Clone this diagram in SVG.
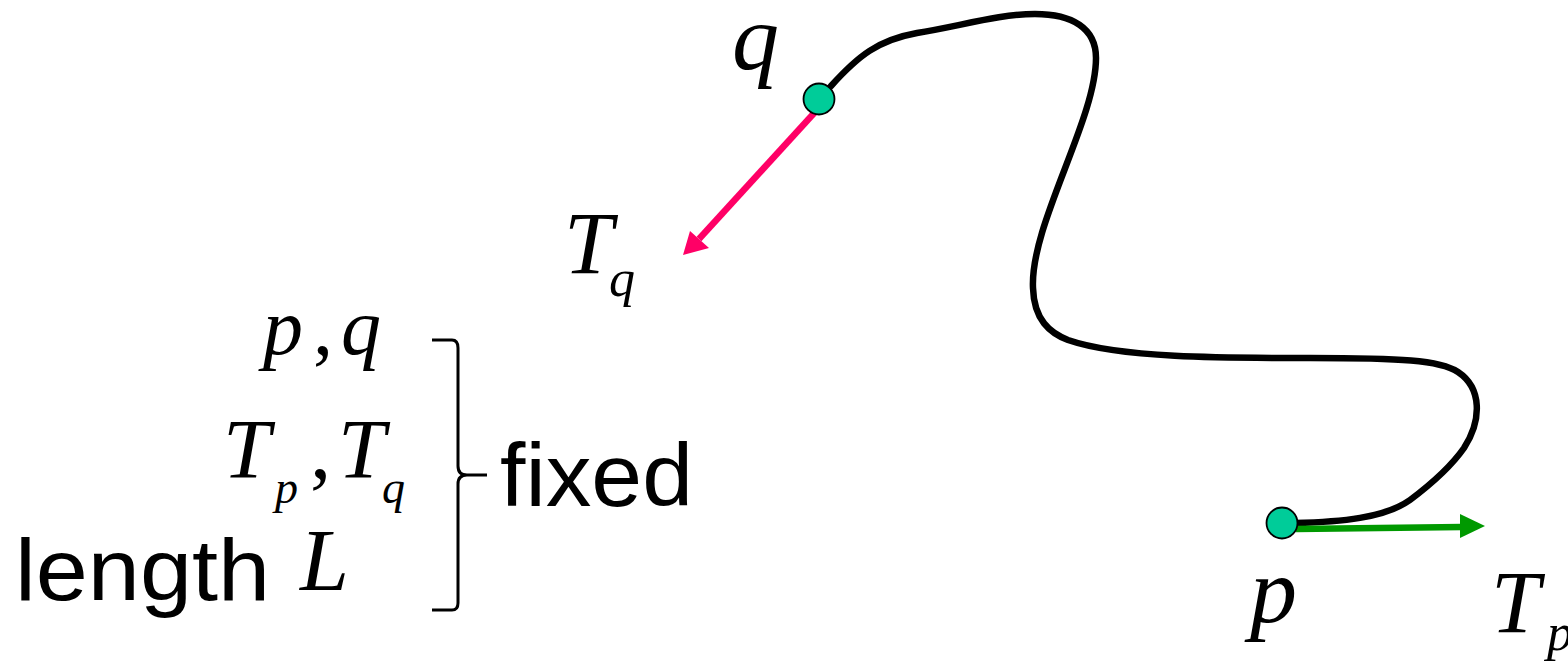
<svg xmlns="http://www.w3.org/2000/svg" width="1568" height="663" viewBox="0 0 1568 663">
<style>
.m{font-family:"Liberation Serif","Times New Roman",serif;font-style:italic;fill:#000}
.r{font-family:"Liberation Serif","Times New Roman",serif;fill:#000}
.s{font-family:"Liberation Sans",Arial,sans-serif;fill:#000}
.dot{fill:#00CC99;stroke:#000;stroke-width:1.8}
</style>
<rect width="1568" height="663" fill="#fff"/>
<g id="connectors">
<path id="curve" d="M831 86 C858 56 878 40 917 33 C960 26 1000 14 1035 14 C1072 14 1096 28 1096 58 C1096 120 1030 225 1033 288 C1034 320 1050 333 1068 340 C1120 358 1220 358 1310 358 C1400 358 1440 360 1458 372 C1482 388 1482 420 1464 448 C1450 468 1430 485 1410 500 C1385 518 1340 522 1295 523" fill="none" stroke="#000" stroke-width="6.5" stroke-linecap="round"/>
<g id="Tq-arrow">
<line x1="816" y1="111" x2="699" y2="239" stroke="#FF0066" stroke-width="6.5"/>
<polygon points="683,255 690,231 709,248" fill="#FF0066"/>
</g>
<g id="Tp-arrow">
<line x1="1296" y1="529" x2="1462" y2="527" stroke="#009900" stroke-width="6.5"/>
<polygon points="1460,514 1485,526 1460,538" fill="#009900"/>
</g>
<path id="brace" d="M432 340 L452 340 Q458 340 458 348 L458 466 Q458 475 467 475 L487 475 M467 475 Q458 475 458 484 L458 603 Q458 610 452 610 L432 610" fill="none" stroke="#000" stroke-width="3"/>
</g>
<g id="node-q">
<circle class="dot" cx="819" cy="99" r="15.5"/>
<text class="m" x="732" y="69" font-size="94">q</text>
</g>
<g id="node-p">
<circle class="dot" cx="1282" cy="523" r="15.5"/>
<text class="m" x="1250" y="622" font-size="94">p</text>
</g>
<g id="label-Tq">
<text class="m" x="564" y="273" font-size="88">T</text>
<text class="m" x="609" y="296" font-size="52">q</text>
</g>
<g id="label-Tp">
<text class="m" x="1491" y="632" font-size="88">T</text>
<text class="m" x="1547" y="650" font-size="52">p</text>
</g>
<g id="legend">
<text class="m" x="263" y="354" font-size="80">p</text>
<text class="r" x="313" y="354" font-size="80">,</text>
<text class="m" x="341" y="354" font-size="80">q</text>
<text class="m" x="223" y="478" font-size="85">T</text>
<text class="m" x="275" y="503" font-size="46">p</text>
<text class="r" x="310" y="478" font-size="85">,</text>
<text class="m" x="338" y="478" font-size="85">T</text>
<text class="m" x="382" y="503" font-size="46">q</text>
<text class="s" x="15" y="600" font-size="88" textLength="255" lengthAdjust="spacingAndGlyphs">length</text>
<text class="m" x="300" y="590" font-size="88">L</text>
<text class="s" x="500" y="506" font-size="89" textLength="193" lengthAdjust="spacingAndGlyphs">fixed</text>
</g>
</svg>
